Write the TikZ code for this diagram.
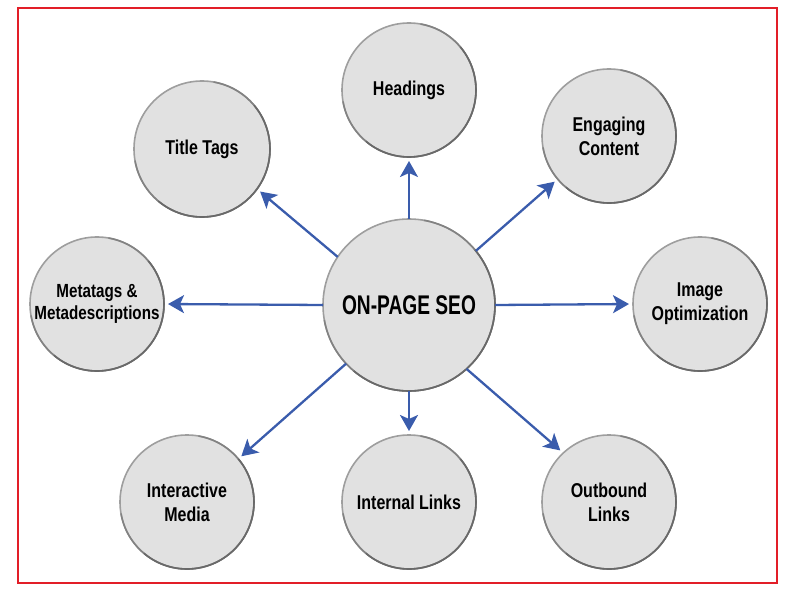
\documentclass[tikz,border=0pt]{standalone}
\usepackage{fontspec}
\setmainfont{Liberation Sans}
\newfontfamily\outerfont{Liberation Sans}[FakeStretch=0.8]
\newfontfamily\centerfont{Liberation Sans}[FakeStretch=0.71]
\usetikzlibrary{arrows.meta}
\definecolor{arrowblue}{RGB}{58,92,172}
\definecolor{circfill}{RGB}{225,225,225}
\definecolor{circline}{RGB}{158,158,158}
\definecolor{circmid}{RGB}{130,130,130}
\definecolor{circdark}{RGB}{105,105,105}
\definecolor{frame}{RGB}{226,30,40}
\tikzset{
  bubble/.style={circle, fill=circfill, draw=circline, line width=1.6pt,
    minimum size=134pt, inner sep=0pt, outer sep=0pt, align=center,
    font=\outerfont\bfseries\fontsize{20}{24}\selectfont},
  hub/.style={bubble, minimum size=172pt,
    font=\centerfont\bfseries\fontsize{27}{30}\selectfont},
  link/.style={draw=arrowblue, line width=2.3pt,
    -{Stealth[length=16pt, width=18pt, inset=4pt]}, shorten >=4pt},
  shadeA/.style={draw=circmid, line width=1.6pt},
  shadeB/.style={draw=circdark, line width=1.6pt}
}
\begin{document}
\begin{tikzpicture}[x=1pt, y=-1pt]
\useasboundingbox (0,0) rectangle (795,593);
\draw[frame, line width=2.4pt] (18,8) rectangle (777,583);

\node[hub] (c) at (409,305) {ON-PAGE SEO};
\node[bubble] (h) at (409,90) {Headings};
\node[bubble, minimum size=136pt] (tt) at (202,149) {Title Tags};
\node[bubble] (ec) at (609,136) {Engaging\\Content};
\node[bubble, font=\outerfont\bfseries\fontsize{19}{22}\selectfont] (mt) at (97,304) {Metatags \&\\Metadescriptions};
\node[bubble] (io) at (700,304) {Image\\Optimization};
\node[bubble] (im) at (187,502) {Interactive\\Media};
\node[bubble] (il) at (409,502) {Internal Links};
\node[bubble] (ol) at (609,502) {Outbound\\Links};

% darker lower-right rim of each circle
\foreach \n/\r in {h/67, ec/67, mt/67, io/67, im/67, il/67, ol/67, tt/68, c/86}{
  \draw[shadeA] (\n.-170) arc[start angle=-170, end angle=80, radius=\r pt];
  \draw[shadeB] (\n.-130) arc[start angle=-130, end angle=40, radius=\r pt];
}

\draw[link] (c.146) -- (tt.-36);
\draw[link] (c.north) -- (h.south);
\draw[link] (c.39) -- (ec.220);
\draw[link] (c.west) -- (mt.east);
\draw[link] (c.east) -- (io.west);
\draw[link] (c.223) -- (im.40.5);
\draw[link] (c.south) -- (il.north);
\draw[link] (c.-48) -- (ol.133.5);
\end{tikzpicture}
\end{document}
